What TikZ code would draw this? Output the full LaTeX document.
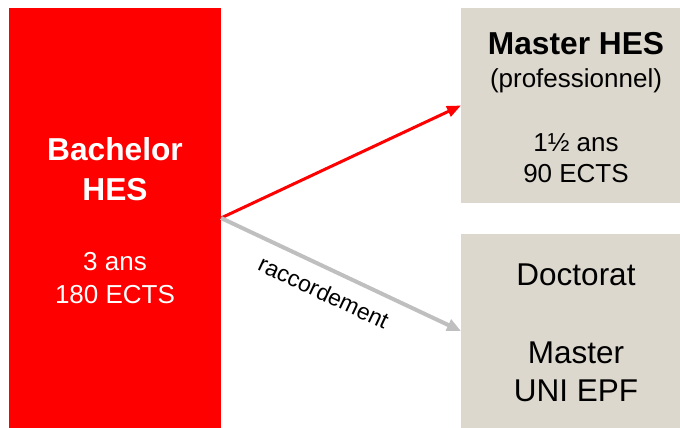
\documentclass[tikz,border=0pt]{standalone}
\usepackage{fontspec}
\setmainfont{Liberation Sans}
\usetikzlibrary{arrows.meta}
\definecolor{hesred}{RGB}{255,0,0}
\definecolor{boxgray}{RGB}{221,216,206}
\definecolor{linkgray}{RGB}{191,191,191}
\begin{document}
\begin{tikzpicture}[x=1pt,y=-1pt,
  box/.style={draw=none,inner sep=0pt,outer sep=0pt},
  boldtxt/.style={anchor=base,inner sep=0pt,font=\fontsize{31.7}{36}\selectfont\bfseries},
  smalltxt/.style={anchor=base,inner sep=0pt,font=\fontsize{26}{30}\selectfont},
  largetxt/.style={anchor=base,inner sep=0pt,font=\fontsize{31.5}{36}\selectfont},
  redarrow/.style={draw=hesred,line width=3pt,-{Triangle[length=14pt,width=11pt]}},
  grayarrow/.style={draw=linkgray,line width=4pt,-{Triangle[length=14pt,width=12pt]}},
  racc/.style={pos=0.47,sloped,below=13pt,inner sep=0pt,text=black,font=\fontsize{23}{26}\selectfont}]
\useasboundingbox (0,0) rectangle (680,428);
% boxes
\node[box,fill=hesred,minimum width=212pt,minimum height=420pt] (bach) at (115,218) {};
\node[box,fill=boxgray,minimum width=219pt,minimum height=195pt] (mhes) at (570.5,105.5) {};
\node[box,fill=boxgray,minimum width=219pt,minimum height=194pt] (doc) at (570.5,331) {};
% texts in Bachelor box
\node[boldtxt,text=white] (b1) at (115,160) {Bachelor};
\node[boldtxt,text=white] (b2) at (115,200) {HES};
\node[smalltxt,text=white] (b3) at (115,270) {3 ans};
\node[smalltxt,text=white] (b4) at (115,303) {180 ECTS};
% texts in Master HES box
\node[boldtxt] (m1) at (576,55) {Master HES};
\node[smalltxt] (m2) at (576,88) {(professionnel)};
\node[smalltxt] (m3) at (576,151) {1½ ans};
\node[smalltxt] (m4) at (576,182) {90 ECTS};
% texts in lower box
\node[largetxt] (d1) at (576,285) {Doctorat};
\node[largetxt] (d2) at (576,363) {Master};
\node[largetxt] (d3) at (576,401) {UNI EPF};
% connectors
\draw[redarrow] (bach.east) -- (mhes.west);
\draw[grayarrow] (bach.east) -- node[racc] (rl) {raccordement} (doc.west);
\end{tikzpicture}
\end{document}
